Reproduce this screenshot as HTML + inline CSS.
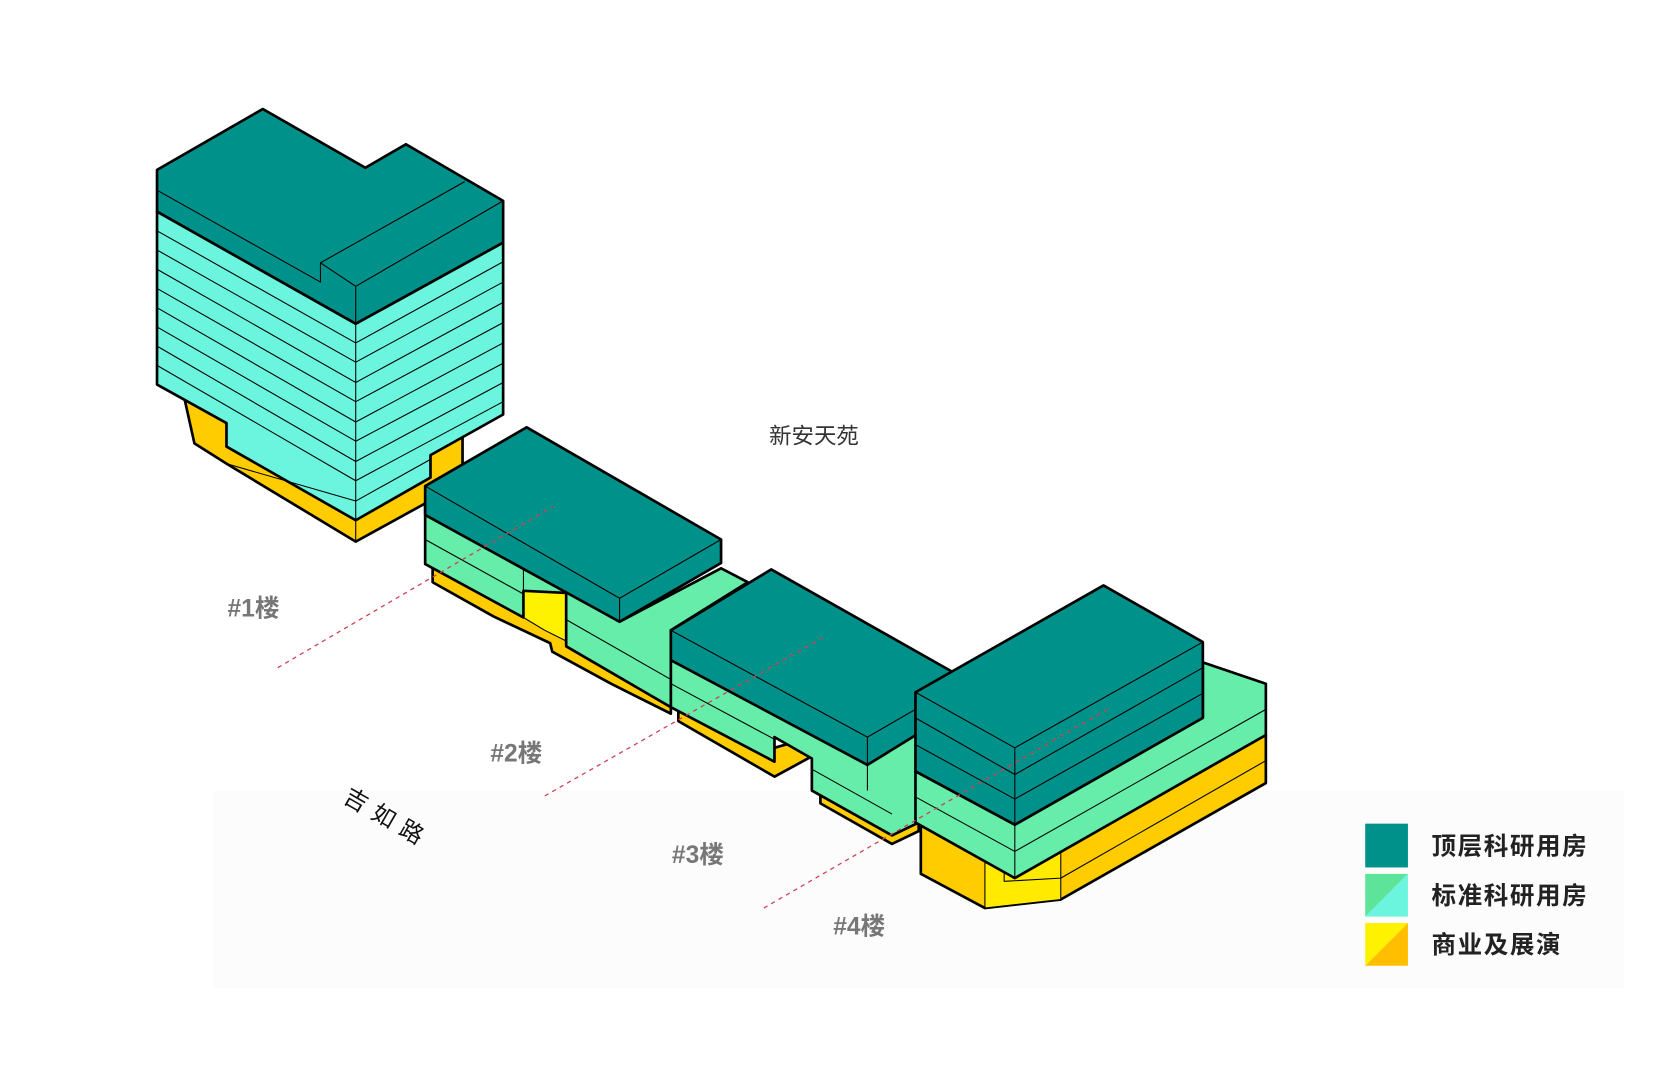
<!DOCTYPE html>
<html><head><meta charset="utf-8"><style>
html,body{margin:0;padding:0;background:#fff;}
svg{display:block}
text{font-family:"Liberation Sans","Noto Sans CJK SC",sans-serif;}
</style></head><body>
<svg width="1675" height="1079" viewBox="0 0 1568 1010" xmlns="http://www.w3.org/2000/svg">
<rect x="0" y="0" width="1568" height="1010" fill="#fff"/>
<rect x="200" y="740" width="1320" height="185" fill="#fcfcfc"/>
<g stroke="#000" stroke-linejoin="round">
<!-- Tower 1 -->
<polygon points="172,370 182,415 212,434 333,507 433,452 433,408 333,460 172,372" fill="#FFCC00" stroke-width="2.5"/>
<polygon points="147,198 333,303 471,227 471,388 403,426 403,447 333,487 212,418 212,396 147,360" fill="#6BF5DF" stroke-width="2.5"/>
<g stroke-width="1" fill="none">
<polyline points="147,216 333,321 471,245"/><polyline points="147,234 333,339 471,264"/>
<polyline points="147,252 333,358 471,283"/><polyline points="147,270 333,376 471,302"/>
<polyline points="147,288 333,395 471,321"/><polyline points="147,306 333,413 471,340"/>
<polyline points="147,324 333,432 471,358"/><polyline points="147,342 333,450 471,376"/>
<polyline points="212,434 333,469 403,430"/><line x1="333" y1="303" x2="333" y2="507"/>
</g>
<polygon points="147,159 246,102 342,157 380,135 471,188 471,227 333,303 147,198" fill="#00918A" stroke-width="2.5"/>
<g stroke-width="1" fill="none">
<polyline points="147,178 300,264 300,246 435,170"/><polyline points="300,246 333,268 471,188"/><line x1="333" y1="268" x2="333" y2="303"/>
</g>
<!-- Building 2 -->
<polygon points="405,520 405,545 462,577 515,602 517,610 572,640 628,668 628,650 530,593 530,555 490,553 405,505" fill="#FFCC00" stroke-width="2.5"/>
<polygon points="490,553 530,553 530,600 510,590 490,578" fill="#FFF200" stroke-width="1"/>
<polygon points="398,470 398,528 490,578 490,553 530,555 530,605 628,662 628,590 700,545 675,532 580,582 398,478" fill="#66EDAA" stroke-width="2.5"/>
<g stroke-width="1" fill="none"><polyline points="398,505 490,556"/><polyline points="530,580 628,636"/><line x1="490" y1="530" x2="490" y2="578"/></g>
<polygon points="398,455 493,400 675,505 675,527 580,582 398,482" fill="#00918A" stroke-width="2.5"/>
<g stroke-width="1" fill="none"><polyline points="398,455 580,560 675,505"/><line x1="580" y1="560" x2="580" y2="582"/></g>
<!-- Building 3 -->
<polygon points="635,662 635,675 725,727 760,708 760,690 725,700" fill="#FFCC00" stroke-width="2.5"/>
<polygon points="768,740 768,752 835,790 860,778 860,760" fill="#FFCC00" stroke-width="2.5"/>
<polygon points="628,618 628,662 725,713 725,690 760,710 760,740 835,782 860,770 890,700 890,645 812,690" fill="#66EDAA" stroke-width="2.5"/>
<g stroke-width="1" fill="none"><polyline points="628,640 725,692"/><polyline points="760,720 835,762"/><line x1="812" y1="690" x2="812" y2="740"/></g>
<polygon points="628,590 722,533 890,628 890,668 812,716 628,618" fill="#00918A" stroke-width="2.5"/>
<g stroke-width="1" fill="none"><polyline points="628,590 812,690 890,645"/><line x1="812" y1="690" x2="812" y2="716"/></g>
<!-- Building 4 -->
<polygon points="862,765 862,818 922,850 993,842 1185,733 1185,688 993,797 922,800" fill="#FFCC00" stroke-width="2.5"/>
<polygon points="922,800 993,797 993,842 922,850" fill="#FFEA00" stroke-width="1"/>
<polyline points="940,800 940,825 993,822 1185,712" fill="none" stroke-width="1"/>
<polygon points="857,722 950,772 1126,672 1126,620 1185,640 1185,688 950,822 857,770" fill="#66EDAA" stroke-width="2.5"/>
<g stroke-width="1" fill="none"><polyline points="857,746 950,797 1185,664"/><line x1="950" y1="772" x2="950" y2="822"/></g>
<polygon points="857,648 1033,548 1126,601 1126,672 950,772 857,722" fill="#00918A" stroke-width="2.5"/>
<g stroke-width="1" fill="none"><polyline points="857,648 950,700 1126,601"/><polyline points="857,672 950,725 1126,625"/><polyline points="857,697 950,748 1126,649"/><line x1="950" y1="700" x2="950" y2="772"/></g>
</g>
<!-- dashed lines -->
<g stroke="#d04050" stroke-width="1.2" stroke-dasharray="4,4" fill="none">
<line x1="260" y1="625" x2="518" y2="474"/>
<line x1="510" y1="745" x2="770" y2="597"/>
<line x1="715" y1="850" x2="1040" y2="662"/>
</g>
<!-- labels -->
<text x="720" y="415" font-size="21" fill="#333">新安天苑</text>
<g font-size="23" fill="#777" font-weight="bold">
<text x="213" y="577">#1楼</text>
<text x="459" y="713">#2楼</text>
<text x="629" y="808">#3楼</text>
<text x="780" y="875">#4楼</text>
</g>
<text x="0" y="0" font-size="22" fill="#111" transform="translate(320,750) rotate(30)" letter-spacing="8">吉如路</text>
<!-- legend -->
<rect x="1278" y="771" width="40" height="41" fill="#00918A"/>
<polygon points="1278,818 1318,818 1278,858" fill="#5EE39A"/><polygon points="1318,818 1318,858 1278,858" fill="#6BF5DF"/>
<polygon points="1278,864 1318,864 1278,904" fill="#FFF200"/><polygon points="1318,864 1318,904 1278,904" fill="#FFBF00"/>
<g font-size="23" fill="#222" font-weight="bold" letter-spacing="1.5">
<text x="1340" y="800">顶层科研用房</text>
<text x="1340" y="846">标准科研用房</text>
<text x="1340" y="892">商业及展演</text>
</g>
</svg>
</body></html>
